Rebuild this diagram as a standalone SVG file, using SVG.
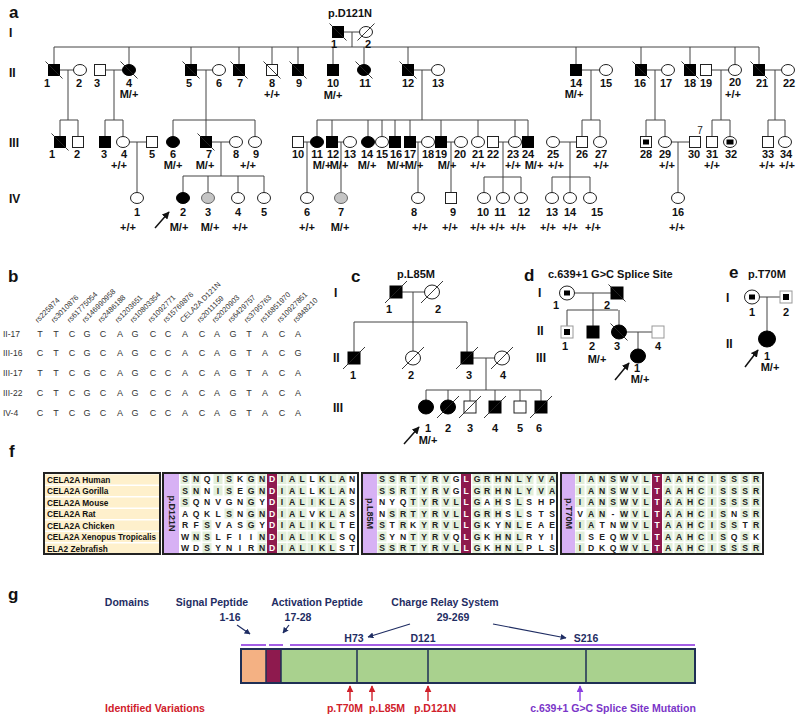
<svg xmlns="http://www.w3.org/2000/svg" xmlns:xlink="http://www.w3.org/1999/xlink" width="800" height="719" viewBox="0 0 800 719">
<style>
text{font-family:"Liberation Sans",Arial,sans-serif}
.t{font-size:11px;font-weight:bold;text-anchor:middle;fill:#111}
.rn{font-size:12px;font-weight:bold;fill:#111}
.pl{font-size:17px;font-weight:bold;fill:#111}
.ti{font-size:11px;font-weight:bold;fill:#111}
.o{fill:#fff;stroke:#222;stroke-width:1}
.k{fill:#000;stroke:#000;stroke-width:1}
.gy{fill:#c4c4c4;stroke:#666;stroke-width:1}
.lo{fill:#fff;stroke:#999;stroke-width:1}
.sl{fill:none;stroke:#222;stroke-width:0.9}
.ln{fill:none;stroke:#444;stroke-width:1}
.bh{font-size:7.5px;fill:#333}
.br{font-size:8.5px;fill:#333}
.bs{font-size:9px;fill:#333;text-anchor:middle}
.nm{font-size:8.3px;font-weight:bold;fill:#111}
.aa{font-size:8.6px;font-weight:bold;fill:#222;text-anchor:middle}
.gc{fill:#e2efda}
.bx{fill:none;stroke:#222;stroke-width:2}
.lab{fill:#d7b1f4}
.hl{fill:#8e1a4e}
.pv{font-size:9px;font-weight:bold;fill:#222;text-anchor:middle}
.nv{font-size:10.5px;font-weight:bold;fill:#1f2d63;text-anchor:middle}
.rd{font-size:10.5px;font-weight:bold;fill:#d0202a;text-anchor:middle}
.pu{font-size:10.5px;font-weight:bold;fill:#7a35c8;text-anchor:middle}
</style>
<defs>
<rect id="s" x="-5.5" y="-5.5" width="11" height="11"/>
<ellipse id="c" rx="6.5" ry="5.5"/>
<rect id="S" x="-6" y="-6" width="12" height="12"/>
<ellipse id="C" rx="7.5" ry="7"/>
<path id="bs" d="M-8.5,-8.5L8.5,8.5"/>
<path id="fs" d="M-8.5,8.5L8.5,-8.5"/>
<path id="fl" d="M-11,11L11,-11"/>
<rect id="g" class="gc" x="-4.5" y="-5" width="9" height="10"/>
<marker id="ak" viewBox="0 0 10 10" refX="9" refY="5" markerWidth="5" markerHeight="5" orient="auto"><path d="M0,0L10,5L0,10z" fill="#111"/></marker>
<marker id="an" viewBox="0 0 10 10" refX="9" refY="5" markerWidth="5" markerHeight="5" orient="auto"><path d="M0,0L10,5L0,10z" fill="#1f2d63"/></marker>
<marker id="ar" viewBox="0 0 10 10" refX="9" refY="5" markerWidth="5" markerHeight="5" orient="auto"><path d="M0,0L10,5L0,10z" fill="#d0202a"/></marker>
<marker id="ap" viewBox="0 0 10 10" refX="9" refY="5" markerWidth="5" markerHeight="5" orient="auto"><path d="M0,0L10,5L0,10z" fill="#8a3ee0"/></marker>
</defs>
<rect width="800" height="719" fill="#fff"/>

<!-- connectors -->
<g id="connectors" class="ln">
<path d="M343.5,32H359.5M352,32V47M54,47H759M54,47V64.5M129,47V64.5M191,47V64.5M239,47V64.5M272,47V64.5M298,47V64.5M333,47V64.5M364,47V64.5M408,47V64.5M576,47V64.5M641,47V64.5M690,47V64.5M735,47V64.5M759,47V64.5"/>
<path d="M59.5,70H73.5M68,70V120M60,120H78M60,120V136.5M78,120V136.5"/>
<path d="M105.5,70H122.5M114,70V120M105,120H123M105,120V136.5M123,120V136.5"/>
<path d="M196.5,70H212.5M206,70V136.5M173,120H255M173,120V136.5M255,120V136.5"/>
<path d="M413.5,70H431.5M422,70V120M317,120H528M317,120V136.5M332,120V136.5M368,120V136.5M382,120V136.5M395,120V136.5M410,120V136.5M441,120V136.5M478,120V136.5M515,120V136.5M528,120V136.5"/>
<path d="M581.5,70H599.5M591,70V120M582,120H600M582,120V136.5M600,120V136.5"/>
<path d="M646.5,70H661.5M655,70V120M646,120H665M646,120V136.5M665,120V136.5"/>
<path d="M711.5,70H728.5M721,70V120M712,120H730M712,120V136.5M730,120V136.5"/>
<path d="M764.5,70H781.5M775,70V120M768,120H785M768,120V136.5M785,120V136.5"/>
<path d="M129.5,142H146.5M137,142V192.5"/>
<path d="M211.5,142H229.5M221,142V176M183,176H264M183,176V192.5M208,176V192.5M238,176V192.5M264,176V192.5"/>
<path d="M303.5,142H310.5M307,142V192.5M337.5,142H343.5M341,142V192.5"/>
<path d="M415.5,142H421.5M418,142V192.5M446.5,142H454.5M451,142V192.5"/>
<path d="M498.5,142H508.5M503,142V177M484,177H521M484,177V192.5M503,177V192.5M521,177V192.5"/>
<path d="M559.5,142H576.5M570,142V177M552,177H590M552,177V192.5M570,177V192.5M590,177V192.5"/>
<path d="M671.5,142H689.5M678,142V192.5"/>
<path d="M155,228L169,212" stroke="#111" stroke-width="1.5" marker-end="url(#ak)"/>
<!-- c -->
<path d="M402,292H425M413,292V322M354,322H467M354,322V352M413,322V351M467,322V352"/>
<path d="M473,358H494.5M486,358V390M426,390H541M426,390V400M448,390V400M470,390V401M495,390V401M520,390V401M541,390V401"/>
<path d="M404,444L419,427" stroke="#111" stroke-width="1.5" marker-end="url(#ak)"/>
<!-- d -->
<path d="M574.5,293H611M593,293V310M567,310H618M567,310V326M593,310V326M619,310V325M626.5,332H652M638,332V349"/>
<path d="M615,380L629,363" stroke="#111" stroke-width="1.5" marker-end="url(#ak)"/>
<!-- e -->
<path d="M759.5,297H780M767,297V332"/>
<path d="M745,367L758,350" stroke="#111" stroke-width="1.5" marker-end="url(#ak)"/>
<!-- g -->
<g stroke="#1f2d63" stroke-width="1.2">
<path d="M237,625L250,634" marker-end="url(#an)"/>
<path d="M289,625L283,633" marker-end="url(#an)"/>
<path d="M410,624L368,637" marker-end="url(#an)"/>
<path d="M493,624L566,638" marker-end="url(#an)"/>
</g>
<g stroke="#d0202a" stroke-width="1.4">
<path d="M350,701V686" marker-end="url(#ar)"/>
<path d="M372,701V686" marker-end="url(#ar)"/>
<path d="M428,701V686" marker-end="url(#ar)"/>
</g>
<path d="M580,701V686" stroke="#8a3ee0" stroke-width="1.4" marker-end="url(#ap)"/>
</g>

<!-- panel a -->
<g id="panel-a">
<text class="pl" x="9" y="18">a</text>
<text class="ti" x="350" y="17" text-anchor="middle">p.D121N</text>
<text class="rn" x="9" y="37">I</text>
<text class="rn" x="9" y="77">II</text>
<text class="rn" x="9" y="147">III</text>
<text class="rn" x="9" y="203">IV</text>
<g id="aI1"><use href="#s" class="k" x="338" y="32"/><use href="#bs" class="sl" x="338" y="32"/><text class="t" x="334" y="48">1</text></g>
<g id="aI2"><use href="#c" class="o" x="366" y="32"/><use href="#fs" class="sl" x="366" y="32"/><text class="t" x="368" y="48">2</text></g>

<g id="aII1"><use href="#s" class="k" x="54" y="70"/><use href="#bs" class="sl" x="54" y="70"/><text class="t" x="47" y="87">1</text></g>
<g id="aII2"><use href="#c" class="o" x="80" y="70"/><text class="t" x="79" y="87">2</text></g>
<g id="aII3"><use href="#s" class="o" x="100" y="70"/><text class="t" x="97" y="87">3</text></g>
<g id="aII4"><use href="#c" class="k" x="129" y="70"/><use href="#bs" class="sl" x="129" y="70"/><text class="t" x="129" y="87">4</text><text class="t" x="129" y="98">M/+</text></g>
<g id="aII5"><use href="#s" class="k" x="191" y="70"/><use href="#bs" class="sl" x="191" y="70"/><text class="t" x="189" y="87">5</text></g>
<g id="aII6"><use href="#c" class="o" x="219" y="70"/><text class="t" x="219" y="87">6</text></g>
<g id="aII7"><use href="#s" class="k" x="239" y="70"/><use href="#bs" class="sl" x="239" y="70"/><text class="t" x="240" y="87">7</text></g>
<g id="aII8"><use href="#s" class="o" x="272" y="70"/><use href="#bs" class="sl" x="272" y="70"/><text class="t" x="272" y="87">8</text><text class="t" x="272" y="98">+/+</text></g>
<g id="aII9"><use href="#s" class="k" x="298" y="70"/><use href="#bs" class="sl" x="298" y="70"/><text class="t" x="299" y="87">9</text></g>
<g id="aII10"><use href="#s" class="k" x="333" y="70"/><text class="t" x="333" y="87">10</text><text class="t" x="333" y="99">M/+</text></g>
<g id="aII11"><use href="#c" class="k" x="364" y="70"/><use href="#bs" class="sl" x="364" y="70"/><text class="t" x="365" y="87">11</text></g>
<g id="aII12"><use href="#s" class="k" x="408" y="70"/><use href="#bs" class="sl" x="408" y="70"/><text class="t" x="408" y="87">12</text></g>
<g id="aII13"><use href="#c" class="o" x="438" y="70"/><text class="t" x="438" y="87">13</text></g>
<g id="aII14"><use href="#s" class="k" x="576" y="70"/><text class="t" x="576" y="87">14</text><text class="t" x="574" y="98">M/+</text></g>
<g id="aII15"><use href="#c" class="o" x="606" y="70"/><text class="t" x="606" y="87">15</text></g>
<g id="aII16"><use href="#s" class="k" x="641" y="70"/><use href="#bs" class="sl" x="641" y="70"/><text class="t" x="640" y="87">16</text></g>
<g id="aII17"><use href="#c" class="o" x="668" y="70"/><text class="t" x="666" y="87">17</text></g>
<g id="aII18"><use href="#s" class="k" x="690" y="70"/><use href="#bs" class="sl" x="690" y="70"/><text class="t" x="690" y="87">18</text></g>
<g id="aII19"><use href="#s" class="o" x="706" y="70"/><text class="t" x="706" y="87">19</text></g>
<g id="aII20"><use href="#c" class="o" x="735" y="70"/><text class="t" x="735" y="86">20</text><text class="t" x="733" y="97.5" font-size="10">+/+</text></g>
<g id="aII21"><use href="#s" class="k" x="759" y="70"/><use href="#bs" class="sl" x="759" y="70"/><text class="t" x="762" y="87">21</text></g>
<g id="aII22"><use href="#c" class="o" x="788" y="70"/><text class="t" x="789" y="87">22</text></g>

<g id="aIII1"><use href="#s" class="k" x="60" y="142"/><use href="#bs" class="sl" x="60" y="142"/><text class="t" x="52" y="158">1</text></g>
<g id="aIII2"><use href="#s" class="o" x="78" y="142"/><text class="t" x="77" y="158">2</text></g>
<g id="aIII3"><use href="#s" class="k" x="105" y="142"/><text class="t" x="104" y="158">3</text></g>
<g id="aIII4"><use href="#c" class="o" x="123" y="142"/><text class="t" x="124" y="158">4</text><text class="t" x="119" y="169">+/+</text></g>
<g id="aIII5"><use href="#s" class="o" x="152" y="142"/><text class="t" x="152" y="158">5</text></g>
<g id="aIII6"><use href="#c" class="k" x="173" y="142"/><text class="t" x="173" y="158">6</text><text class="t" x="173" y="169">M/+</text></g>
<g id="aIII7"><use href="#s" class="k" x="206" y="142"/><use href="#bs" class="sl" x="206" y="142"/><text class="t" x="209" y="158">7</text><text class="t" x="205" y="169">M/+</text></g>
<g id="aIII8"><use href="#c" class="o" x="236" y="142"/><text class="t" x="236" y="158">8</text></g>
<g id="aIII9"><use href="#c" class="o" x="255" y="142"/><text class="t" x="256" y="158">9</text><text class="t" x="248" y="169">+/+</text></g>
<g id="aIII10"><use href="#s" class="o" x="298" y="142"/><text class="t" x="298" y="158">10</text></g>
<g id="aIII11"><use href="#c" class="k" x="317" y="142"/><text class="t" x="317" y="158">11</text><text class="t" x="322" y="169">M/+</text></g>
<g id="aIII12"><use href="#s" class="k" x="332" y="142"/><text class="t" x="333" y="158">12</text><text class="t" x="339" y="169">M/+</text></g>
<g id="aIII13"><use href="#c" class="o" x="350" y="142"/><text class="t" x="350" y="158">13</text></g>
<g id="aIII14"><use href="#c" class="k" x="368" y="142"/><text class="t" x="367" y="158">14</text><text class="t" x="367" y="169">M/+</text></g>
<g id="aIII15"><use href="#c" class="o" x="382" y="142"/><text class="t" x="382" y="158">15</text></g>
<g id="aIII16"><use href="#s" class="k" x="395" y="142"/><text class="t" x="396" y="158">16</text><text class="t" x="396" y="169">M/+</text></g>
<g id="aIII17"><use href="#s" class="k" x="410" y="142"/><text class="t" x="410" y="158">17</text><text class="t" x="414" y="169">M/+</text></g>
<g id="aIII18"><use href="#c" class="o" x="428" y="142"/><text class="t" x="428" y="158">18</text></g>
<g id="aIII19"><use href="#s" class="k" x="441" y="142"/><text class="t" x="441" y="158">19</text><text class="t" x="447" y="169">M/+</text></g>
<g id="aIII20"><use href="#c" class="o" x="461" y="142"/><text class="t" x="460" y="158">20</text></g>
<g id="aIII21"><use href="#c" class="o" x="478" y="142"/><text class="t" x="478" y="158">21</text><text class="t" x="478" y="169">+/+</text></g>
<g id="aIII22"><use href="#s" class="o" x="493" y="142"/><text class="t" x="493" y="158">22</text></g>
<g id="aIII23"><use href="#c" class="o" x="515" y="142"/><text class="t" x="513" y="158">23</text><text class="t" x="513" y="169">+/+</text></g>
<g id="aIII24"><use href="#s" class="k" x="528" y="142"/><text class="t" x="528" y="158">24</text><text class="t" x="534" y="169">M/+</text></g>
<g id="aIII25"><use href="#c" class="o" x="553" y="142"/><text class="t" x="553" y="158">25</text><text class="t" x="556" y="169">+/+</text></g>
<g id="aIII26"><use href="#s" class="o" x="582" y="142"/><text class="t" x="582" y="158">26</text></g>
<g id="aIII27"><use href="#c" class="o" x="600" y="142"/><text class="t" x="601" y="158">27</text><text class="t" x="601" y="169">+/+</text></g>
<g id="aIII28"><use href="#s" class="o" x="646" y="142"/><rect x="643" y="139.5" width="6" height="5"/><text class="t" x="646" y="158">28</text></g>
<g id="aIII29"><use href="#c" class="o" x="665" y="142"/><text class="t" x="665" y="158">29</text><text class="t" x="667" y="169">+/+</text></g>
<g id="aIII30"><use href="#s" class="o" x="695" y="142"/><text x="700" y="134" font-size="10" fill="#222" text-anchor="middle">7</text><text class="t" x="694" y="158">30</text></g>
<g id="aIII31"><use href="#s" class="o" x="712" y="142"/><text class="t" x="712" y="158">31</text><text class="t" x="712" y="169">+/+</text></g>
<g id="aIII32"><use href="#c" class="o" x="730" y="142"/><rect x="726.5" y="139.5" width="7" height="5"/><text class="t" x="731" y="158">32</text></g>
<g id="aIII33"><use href="#s" class="o" x="768" y="142"/><text class="t" x="768" y="158">33</text><text class="t" x="767" y="169">+/+</text></g>
<g id="aIII34"><use href="#c" class="o" x="785" y="142"/><text class="t" x="786" y="158">34</text><text class="t" x="787" y="169">+/+</text></g>

<g id="aIV1"><use href="#c" class="o" x="137" y="198"/><text class="t" x="137" y="216">1</text><text class="t" x="128" y="231">+/+</text></g>
<g id="aIV2"><use href="#c" class="k" x="183" y="198"/><text class="t" x="183" y="216">2</text><text class="t" x="179" y="231">M/+</text></g>
<g id="aIV3"><use href="#c" class="gy" x="208" y="198"/><text class="t" x="208" y="216">3</text><text class="t" x="210" y="231">M/+</text></g>
<g id="aIV4"><use href="#c" class="o" x="238" y="198"/><text class="t" x="238" y="216">4</text><text class="t" x="240" y="231">+/+</text></g>
<g id="aIV5"><use href="#c" class="o" x="264" y="198"/><text class="t" x="264" y="216">5</text></g>
<g id="aIV6"><use href="#c" class="o" x="307" y="198"/><text class="t" x="307" y="216">6</text><text class="t" x="307" y="231">+/+</text></g>
<g id="aIV7"><use href="#c" class="gy" x="341" y="198"/><text class="t" x="341" y="216">7</text><text class="t" x="340" y="231">M/+</text></g>
<g id="aIV8"><use href="#c" class="o" x="418" y="198"/><text class="t" x="414" y="216">8</text><text class="t" x="420" y="231">+/+</text></g>
<g id="aIV9"><use href="#s" class="o" x="451" y="198"/><text class="t" x="453" y="216">9</text><text class="t" x="450" y="231">+/+</text></g>
<g id="aIV10"><use href="#c" class="o" x="484" y="198"/><text class="t" x="483" y="216">10</text><text class="t" x="478" y="231">+/+</text></g>
<g id="aIV11"><use href="#c" class="o" x="503" y="198"/><text class="t" x="500" y="216">11</text><text class="t" x="497" y="231">+/+</text></g>
<g id="aIV12"><use href="#c" class="o" x="521" y="198"/><text class="t" x="524" y="216">12</text><text class="t" x="518" y="231">+/+</text></g>
<g id="aIV13"><use href="#c" class="o" x="552" y="198"/><text class="t" x="552" y="216">13</text><text class="t" x="548" y="231">+/+</text></g>
<g id="aIV14"><use href="#c" class="o" x="570" y="198"/><text class="t" x="570" y="216">14</text><text class="t" x="570" y="231">+/+</text></g>
<g id="aIV15"><use href="#c" class="o" x="590" y="198"/><text class="t" x="597" y="216">15</text><text class="t" x="593" y="231">+/+</text></g>
<g id="aIV16"><use href="#c" class="o" x="678" y="198"/><text class="t" x="678" y="216">16</text><text class="t" x="677" y="231">+/+</text></g>
</g>

<!-- panel b -->
<g id="panel-b">
<text class="pl" x="8" y="282">b</text>
<g class="bh">
<text transform="translate(38,323) rotate(-45)">rs225874</text>
<text transform="translate(54,323) rotate(-45)">rs3010876</text>
<text transform="translate(70,323) rotate(-45)">rs61775054</text>
<text transform="translate(85,323) rotate(-45)">rs146990958</text>
<text transform="translate(101,323) rotate(-45)">rs2486188</text>
<text transform="translate(118,323) rotate(-45)">rs1203651</text>
<text transform="translate(133,323) rotate(-45)">rs10803354</text>
<text transform="translate(151,323) rotate(-45)">rs1092771</text>
<text transform="translate(166,323) rotate(-45)">rs15769876</text>
<text transform="translate(183,323) rotate(-45)">CELA2A D121N</text>
<text transform="translate(200,323) rotate(-45)">rs2011159</text>
<text transform="translate(215,323) rotate(-45)">rs2020903</text>
<text transform="translate(231,323) rotate(-45)">rs6429757</text>
<text transform="translate(247,323) rotate(-45)">rs3795763</text>
<text transform="translate(263,323) rotate(-45)">rs16851970</text>
<text transform="translate(280,323) rotate(-45)">rs10927851</text>
<text transform="translate(296,323) rotate(-45)">rs848210</text>
</g>
<g class="br">
<text x="3" y="337">II-17</text>
<text x="3" y="356">III-16</text>
<text x="3" y="376">III-17</text>
<text x="3" y="396">III-22</text>
<text x="3" y="416">IV-4</text>
</g>
<g class="bs">
<text x="40 56 72 87 103 120 135 153 168 185 202 217 233 249 265 282 298" y="337">TTCGCAGCCACAGTACA</text>
<text x="40 56 72 87 103 120 135 153 168 185 202 217 233 249 265 282 298" y="356">CTCGCAGCCACAGTACG</text>
<text x="40 56 72 87 103 120 135 153 168 185 202 217 233 249 265 282 298" y="376">TTCGCAGCCACAGTACA</text>
<text x="40 56 72 87 103 120 135 153 168 185 202 217 233 249 265 282 298" y="396">CTCGCAGCCACAGTACA</text>
<text x="40 56 72 87 103 120 135 153 168 185 202 217 233 249 265 282 298" y="416">CTCGCAGCCACAGTACA</text>
</g>
</g>

<!-- panel c -->
<g id="panel-c">
<text class="pl" x="351" y="282">c</text>
<text class="ti" x="416" y="278" text-anchor="middle">p.L85M</text>
<text class="rn" x="334" y="297">I</text>
<text class="rn" x="333" y="362">II</text>
<text class="rn" x="333" y="412">III</text>
<g id="cI1"><use href="#S" class="k" x="396" y="292"/><use href="#fl" class="sl" x="396" y="292"/><text class="t" x="389" y="313">1</text></g>
<g id="cI2"><use href="#C" class="o" x="432" y="292"/><use href="#fl" class="sl" x="432" y="292"/><text class="t" x="438" y="313">2</text></g>
<g id="cII1"><use href="#S" class="k" x="354" y="358"/><use href="#fl" class="sl" x="354" y="358"/><text class="t" x="353" y="379">1</text></g>
<g id="cII2"><use href="#C" class="o" x="413" y="358"/><use href="#fl" class="sl" x="413" y="358"/><text class="t" x="411" y="379">2</text></g>
<g id="cII3"><use href="#S" class="k" x="467" y="358"/><use href="#fl" class="sl" x="467" y="358"/><text class="t" x="469" y="379">3</text></g>
<g id="cII4"><use href="#C" class="o" x="502" y="358"/><use href="#fl" class="sl" x="502" y="358"/><text class="t" x="503" y="379">4</text></g>
<g id="cIII1"><use href="#C" class="k" x="426" y="407"/><text class="t" x="428" y="432">1</text><text class="t" x="428" y="444">M/+</text></g>
<g id="cIII2"><use href="#C" class="k" x="448" y="407"/><use href="#fl" class="sl" x="448" y="407"/><text class="t" x="448" y="432">2</text></g>
<g id="cIII3"><use href="#S" class="o" x="470" y="407"/><use href="#fl" class="sl" x="470" y="407"/><text class="t" x="470" y="432">3</text></g>
<g id="cIII4"><use href="#S" class="k" x="495" y="407"/><use href="#fl" class="sl" x="495" y="407"/><text class="t" x="495" y="432">4</text></g>
<g id="cIII5"><use href="#S" class="o" x="520" y="407"/><text class="t" x="520" y="432">5</text></g>
<g id="cIII6"><use href="#S" class="k" x="541" y="407"/><use href="#fl" class="sl" x="541" y="407"/><text class="t" x="539" y="432">6</text></g>
</g>

<!-- panel d -->
<g id="panel-d">
<text class="pl" x="524" y="281">d</text>
<text class="ti" x="548" y="278">c.639+1 G&gt;C Splice Site</text>
<text class="rn" x="538" y="297">I</text>
<text class="rn" x="537" y="335">II</text>
<text class="rn" x="536" y="362">III</text>
<g id="dI1"><use href="#C" class="o" x="567" y="293"/><rect x="564" y="290.5" width="6" height="5"/><text class="t" x="556" y="309">1</text></g>
<g id="dI2"><use href="#S" class="k" x="617" y="293"/><use href="#bs" class="sl" x="617" y="293"/><text class="t" x="607" y="309">2</text></g>
<g id="dII1"><use href="#S" class="lo" x="567" y="332"/><rect x="564" y="329" width="6" height="6"/><text class="t" x="565" y="350">1</text></g>
<g id="dII2"><use href="#S" class="k" x="593" y="332"/><text class="t" x="592" y="350">2</text><text class="t" x="597" y="363">M/+</text></g>
<g id="dII3"><use href="#C" class="k" x="619" y="332"/><use href="#bs" class="sl" x="619" y="332"/><text class="t" x="617" y="350">3</text></g>
<g id="dII4"><use href="#S" class="lo" x="658" y="332"/><text class="t" x="658" y="350">4</text></g>
<g id="dIII1"><use href="#C" class="k" x="638" y="356"/><text class="t" x="637" y="372">1</text><text class="t" x="640" y="383">M/+</text></g>
</g>

<!-- panel e -->
<g id="panel-e">
<text class="pl" x="729" y="278">e</text>
<text class="ti" x="748" y="278">p.T70M</text>
<text class="rn" x="726" y="302">I</text>
<text class="rn" x="726" y="348">II</text>
<g id="eI1"><use href="#C" class="o" x="752" y="297"/><rect x="749" y="294.5" width="6" height="5"/><text class="t" x="752" y="316">1</text></g>
<g id="eI2"><use href="#S" class="lo" x="786" y="297"/><rect x="783" y="294" width="6" height="6"/><text class="t" x="786" y="316">2</text></g>
<g id="eII1"><ellipse cx="767" cy="339" rx="8.5" ry="8" class="k"/><text class="t" x="767" y="360">1</text><text class="t" x="770" y="371">M/+</text></g>
</g>

<!-- panel f -->
<g id="panel-f">
<text class="pl" x="9" y="457">f</text>
<g id="f-names">
<rect x="44" y="473" width="116" height="81" fill="#fff"/>
<g fill="#fef0cc">
<rect x="45" y="474.5" width="114" height="10"/>
<rect x="45" y="486" width="114" height="10"/>
<rect x="45" y="497.5" width="114" height="10"/>
<rect x="45" y="509" width="114" height="10"/>
<rect x="45" y="520.5" width="114" height="10"/>
<rect x="45" y="532" width="114" height="10"/>
<rect x="45" y="543.5" width="114" height="10"/>
</g>
<g class="nm">
<text x="47" y="482.5">CELA2A Human</text>
<text x="47" y="494">CELA2A Gorilla</text>
<text x="47" y="505.5">CELA2A Mouse</text>
<text x="47" y="517">CELA2A Rat</text>
<text x="47" y="528.5">CELA2A Chicken</text>
<text x="47" y="540" textLength="109" lengthAdjust="spacingAndGlyphs">CELA2A Xenopus Tropicalis</text>
<text x="47" y="551.5">ELA2 Zebrafish</text>
</g>
<rect class="bx" x="44" y="473" width="116" height="81"/>
</g>

<g id="f-box1">
<rect class="lab" x="164" y="474" width="15" height="79"/>
<text class="pv" transform="translate(168.5,513.5) rotate(90)">p.D121N</text>
<rect class="hl" x="267" y="474" width="10" height="79"/>
<g transform="translate(0,479)"><use href="#g" x="185"/><use href="#g" x="196"/><use href="#g" x="218"/><use href="#g" x="229"/><use href="#g" x="251"/><use href="#g" x="262"/><use href="#g" x="282"/><use href="#g" x="292"/><use href="#g" x="302"/><use href="#g" x="322"/><use href="#g" x="332"/><use href="#g" x="342"/></g>
<g transform="translate(0,490.5)"><use href="#g" x="185"/><use href="#g" x="196"/><use href="#g" x="218"/><use href="#g" x="229"/><use href="#g" x="251"/><use href="#g" x="262"/><use href="#g" x="282"/><use href="#g" x="292"/><use href="#g" x="302"/><use href="#g" x="322"/><use href="#g" x="332"/><use href="#g" x="342"/></g>
<g transform="translate(0,502)"><use href="#g" x="185"/><use href="#g" x="251"/><use href="#g" x="282"/><use href="#g" x="292"/><use href="#g" x="302"/><use href="#g" x="312"/><use href="#g" x="322"/><use href="#g" x="332"/><use href="#g" x="342"/></g>
<g transform="translate(0,513.5)"><use href="#g" x="229"/><use href="#g" x="251"/><use href="#g" x="262"/><use href="#g" x="282"/><use href="#g" x="292"/><use href="#g" x="302"/><use href="#g" x="322"/><use href="#g" x="332"/><use href="#g" x="342"/></g>
<g transform="translate(0,525)"><use href="#g" x="207"/><use href="#g" x="251"/><use href="#g" x="282"/><use href="#g" x="292"/><use href="#g" x="302"/><use href="#g" x="312"/><use href="#g" x="322"/><use href="#g" x="332"/></g>
<g transform="translate(0,536.5)"><use href="#g" x="196"/><use href="#g" x="207"/><use href="#g" x="262"/><use href="#g" x="282"/><use href="#g" x="292"/><use href="#g" x="302"/><use href="#g" x="312"/><use href="#g" x="322"/><use href="#g" x="332"/></g>
<g transform="translate(0,548)"><use href="#g" x="207"/><use href="#g" x="262"/><use href="#g" x="282"/><use href="#g" x="292"/><use href="#g" x="302"/><use href="#g" x="312"/><use href="#g" x="322"/><use href="#g" x="332"/></g>
<g class="aa">
<text x="185 196 207 218 229 240 251 262 272 282 292 302 312 322 332 342 352" y="482">SNQISKGN<tspan fill="#fff">D</tspan>IALLKLAN</text>
<text x="185 196 207 218 229 240 251 262 272 282 292 302 312 322 332 342 352" y="493.5">SNNISEGN<tspan fill="#fff">D</tspan>IALLKLAN</text>
<text x="185 196 207 218 229 240 251 262 272 282 292 302 312 322 332 342 352" y="505">SQNVGNGY<tspan fill="#fff">D</tspan>IALIKLAS</text>
<text x="185 196 207 218 229 240 251 262 272 282 292 302 312 322 332 342 352" y="516.5">AQKLSNGN<tspan fill="#fff">D</tspan>IALVKLAS</text>
<text x="185 196 207 218 229 240 251 262 272 282 292 302 312 322 332 342 352" y="528">RFSVASGY<tspan fill="#fff">D</tspan>IALIKLTE</text>
<text x="185 196 207 218 229 240 251 262 272 282 292 302 312 322 332 342 352" y="539.5">WNSLFIIN<tspan fill="#fff">D</tspan>IALIKLSQ</text>
<text x="185 196 207 218 229 240 251 262 272 282 292 302 312 322 332 342 352" y="551">WDSYNIRN<tspan fill="#fff">D</tspan>IALIKLST</text>
</g>
<rect class="bx" x="163" y="473" width="195" height="81"/>
</g>

<g id="f-box2">
<rect class="lab" x="363" y="474" width="14" height="79"/>
<text class="pv" transform="translate(367,513.5) rotate(90)">p.L85M</text>
<rect class="hl" x="461" y="474" width="10" height="79"/>
<g transform="translate(0,479)"><use href="#g" x="382"/><use href="#g" x="392"/><use href="#g" x="403"/><use href="#g" x="413"/><use href="#g" x="424"/><use href="#g" x="435"/><use href="#g" x="446"/><use href="#g" x="477"/><use href="#g" x="487"/><use href="#g" x="498"/><use href="#g" x="508"/><use href="#g" x="519"/><use href="#g" x="529"/><use href="#g" x="541"/><use href="#g" x="552"/></g>
<g transform="translate(0,490.5)"><use href="#g" x="382"/><use href="#g" x="392"/><use href="#g" x="403"/><use href="#g" x="413"/><use href="#g" x="424"/><use href="#g" x="435"/><use href="#g" x="446"/><use href="#g" x="477"/><use href="#g" x="487"/><use href="#g" x="498"/><use href="#g" x="508"/><use href="#g" x="519"/><use href="#g" x="529"/><use href="#g" x="541"/><use href="#g" x="552"/></g>
<g transform="translate(0,502)"><use href="#g" x="413"/><use href="#g" x="424"/><use href="#g" x="435"/><use href="#g" x="446"/><use href="#g" x="456"/><use href="#g" x="477"/><use href="#g" x="498"/><use href="#g" x="519"/></g>
<g transform="translate(0,513.5)"><use href="#g" x="392"/><use href="#g" x="403"/><use href="#g" x="413"/><use href="#g" x="424"/><use href="#g" x="435"/><use href="#g" x="446"/><use href="#g" x="456"/><use href="#g" x="477"/><use href="#g" x="487"/><use href="#g" x="498"/><use href="#g" x="519"/></g>
<g transform="translate(0,525)"><use href="#g" x="382"/><use href="#g" x="403"/><use href="#g" x="424"/><use href="#g" x="435"/><use href="#g" x="446"/><use href="#g" x="456"/><use href="#g" x="477"/><use href="#g" x="508"/><use href="#g" x="519"/></g>
<g transform="translate(0,536.5)"><use href="#g" x="382"/><use href="#g" x="413"/><use href="#g" x="424"/><use href="#g" x="435"/><use href="#g" x="446"/><use href="#g" x="477"/><use href="#g" x="498"/><use href="#g" x="508"/><use href="#g" x="519"/></g>
<g transform="translate(0,548)"><use href="#g" x="382"/><use href="#g" x="392"/><use href="#g" x="403"/><use href="#g" x="413"/><use href="#g" x="424"/><use href="#g" x="435"/><use href="#g" x="446"/><use href="#g" x="456"/><use href="#g" x="477"/><use href="#g" x="498"/><use href="#g" x="508"/><use href="#g" x="519"/></g>
<g class="aa">
<text x="382 392 403 413 424 435 446 456 466 477 487 498 508 519 529 541 552" y="482">SSRTYRVG<tspan fill="#fff">L</tspan>GRHNLYVA</text>
<text x="382 392 403 413 424 435 446 456 466 477 487 498 508 519 529 541 552" y="493.5">SSRTYRVG<tspan fill="#fff">L</tspan>GRHNLYVA</text>
<text x="382 392 403 413 424 435 446 456 466 477 487 498 508 519 529 541 552" y="505">NYQTYRVL<tspan fill="#fff">L</tspan>GAHSLSHP</text>
<text x="382 392 403 413 424 435 446 456 466 477 487 498 508 519 529 541 552" y="516.5">NSRTYRVL<tspan fill="#fff">L</tspan>GRHSLSTS</text>
<text x="382 392 403 413 424 435 446 456 466 477 487 498 508 519 529 541 552" y="528">STRKYRVL<tspan fill="#fff">L</tspan>GKYNLEAE</text>
<text x="382 392 403 413 424 435 446 456 466 477 487 498 508 519 529 541 552" y="539.5">SYNTYRVQ<tspan fill="#fff">L</tspan>GKHNLRYI</text>
<text x="382 392 403 413 424 435 446 456 466 477 487 498 508 519 529 541 552" y="551">SSRTYRVL<tspan fill="#fff">L</tspan>GKHNLPLS</text>
</g>
<rect class="bx" x="362" y="473" width="195" height="81"/>
</g>

<g id="f-box3">
<rect class="lab" x="562" y="474" width="13" height="79"/>
<text class="pv" transform="translate(565.5,513.5) rotate(90)">p.T70M</text>
<rect class="hl" x="652" y="474" width="10" height="79"/>
<g transform="translate(0,479)"><use href="#g" x="580"/><use href="#g" x="591"/><use href="#g" x="602"/><use href="#g" x="613"/><use href="#g" x="624"/><use href="#g" x="635"/><use href="#g" x="646"/><use href="#g" x="668"/><use href="#g" x="679"/><use href="#g" x="690"/><use href="#g" x="701"/><use href="#g" x="712"/><use href="#g" x="723"/><use href="#g" x="734"/><use href="#g" x="745"/><use href="#g" x="756"/></g>
<g transform="translate(0,490.5)"><use href="#g" x="580"/><use href="#g" x="591"/><use href="#g" x="602"/><use href="#g" x="613"/><use href="#g" x="624"/><use href="#g" x="635"/><use href="#g" x="646"/><use href="#g" x="668"/><use href="#g" x="679"/><use href="#g" x="690"/><use href="#g" x="701"/><use href="#g" x="712"/><use href="#g" x="723"/><use href="#g" x="734"/><use href="#g" x="745"/><use href="#g" x="756"/></g>
<g transform="translate(0,502)"><use href="#g" x="580"/><use href="#g" x="591"/><use href="#g" x="602"/><use href="#g" x="613"/><use href="#g" x="624"/><use href="#g" x="635"/><use href="#g" x="646"/><use href="#g" x="668"/><use href="#g" x="679"/><use href="#g" x="690"/><use href="#g" x="701"/><use href="#g" x="712"/><use href="#g" x="723"/><use href="#g" x="734"/><use href="#g" x="745"/><use href="#g" x="756"/></g>
<g transform="translate(0,513.5)"><use href="#g" x="591"/><use href="#g" x="602"/><use href="#g" x="624"/><use href="#g" x="635"/><use href="#g" x="646"/><use href="#g" x="668"/><use href="#g" x="679"/><use href="#g" x="690"/><use href="#g" x="701"/><use href="#g" x="712"/><use href="#g" x="723"/><use href="#g" x="745"/><use href="#g" x="756"/></g>
<g transform="translate(0,525)"><use href="#g" x="580"/><use href="#g" x="591"/><use href="#g" x="624"/><use href="#g" x="635"/><use href="#g" x="646"/><use href="#g" x="668"/><use href="#g" x="679"/><use href="#g" x="690"/><use href="#g" x="701"/><use href="#g" x="712"/><use href="#g" x="723"/><use href="#g" x="734"/><use href="#g" x="756"/></g>
<g transform="translate(0,536.5)"><use href="#g" x="580"/><use href="#g" x="624"/><use href="#g" x="635"/><use href="#g" x="646"/><use href="#g" x="668"/><use href="#g" x="679"/><use href="#g" x="690"/><use href="#g" x="701"/><use href="#g" x="712"/><use href="#g" x="723"/><use href="#g" x="745"/></g>
<g transform="translate(0,548)"><use href="#g" x="580"/><use href="#g" x="624"/><use href="#g" x="635"/><use href="#g" x="646"/><use href="#g" x="668"/><use href="#g" x="679"/><use href="#g" x="690"/><use href="#g" x="701"/><use href="#g" x="712"/><use href="#g" x="723"/><use href="#g" x="734"/><use href="#g" x="745"/><use href="#g" x="756"/></g>
<g class="aa">
<text x="580 591 602 613 624 635 646 657 668 679 690 701 712 723 734 745 756" y="482">IANSWVL<tspan fill="#fff">T</tspan>AAHCISSSR</text>
<text x="580 591 602 613 624 635 646 657 668 679 690 701 712 723 734 745 756" y="493.5">IANSWVL<tspan fill="#fff">T</tspan>AAHCISSSR</text>
<text x="580 591 602 613 624 635 646 657 668 679 690 701 712 723 734 745 756" y="505">IANSWVL<tspan fill="#fff">T</tspan>AAHCISSSR</text>
<text x="580 591 602 613 624 635 646 657 668 679 690 701 712 723 734 745 756" y="516.5">VAN-WVL<tspan fill="#fff">T</tspan>AAHCISNSR</text>
<text x="580 591 602 613 624 635 646 657 668 679 690 701 712 723 734 745 756" y="528">IATNWVL<tspan fill="#fff">T</tspan>AAHCISSTR</text>
<text x="580 591 602 613 624 635 646 657 668 679 690 701 712 723 734 745 756" y="539.5">ISEQWVL<tspan fill="#fff">T</tspan>AAHCISQSK</text>
<text x="580 591 602 613 624 635 646 657 668 679 690 701 712 723 734 745 756" y="551">IDKQWVL<tspan fill="#fff">T</tspan>AAHCISSSR</text>
</g>
<rect class="bx" x="561" y="473" width="202" height="81"/>
</g>
</g>

<!-- panel g -->
<g id="panel-g">
<text class="pl" x="8" y="600">g</text>
<text class="nv" x="127" y="606">Domains</text>
<text class="nv" x="212" y="606">Signal Peptide</text>
<text class="nv" x="230" y="621">1-16</text>
<text class="nv" x="317" y="606">Activation Peptide</text>
<text class="nv" x="298" y="621">17-28</text>
<text class="nv" x="445" y="606">Charge Relay System</text>
<text class="nv" x="453" y="621">29-269</text>
<text class="nv" x="354" y="642">H73</text>
<text class="nv" x="423" y="642">D121</text>
<text class="nv" x="586" y="642">S216</text>
<g stroke="#a45ee5" stroke-width="2">
<path d="M241,645H266M269,645H283M290,645H695"/>
</g>
<g id="g-bar">
<rect x="241" y="649" width="25" height="34" fill="#f4b183"/>
<rect x="266" y="649" width="15" height="34" fill="#8e1a4e"/>
<rect x="281" y="649" width="414" height="34" fill="#a9d18e"/>
<path d="M266,649V683M281,649V683M357,649V683M428,649V683M586,649V683" stroke="#1f2f55" stroke-width="1.5"/>
<rect x="241" y="649" width="454" height="34" fill="none" stroke="#1f2f55" stroke-width="2"/>
</g>
<text class="rd" x="155" y="712">Identified Variations</text>
<text class="rd" x="345" y="712">p.T70M</text>
<text class="rd" x="387" y="712">p.L85M</text>
<text class="rd" x="435" y="712">p.D121N</text>
<text class="pu" x="613" y="712">c.639+1 G&gt;C Splice Site Mutation</text>
</g>
</svg>
